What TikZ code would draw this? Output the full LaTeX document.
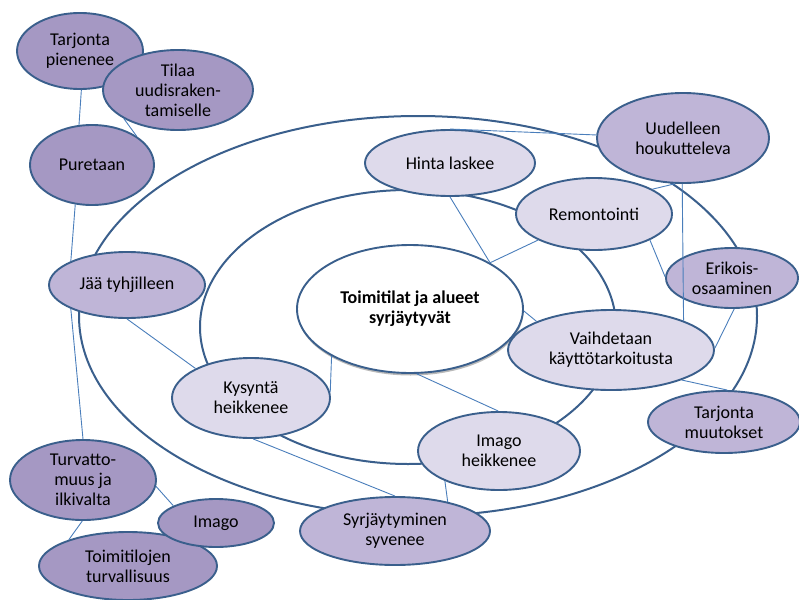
\documentclass[tikz,border=0pt]{standalone}
\usepackage{fontspec}
\setmainfont{Carlito}
\usetikzlibrary{shapes.geometric,shadows}
\definecolor{edge}{HTML}{3A5F8C}
\definecolor{linkc}{HTML}{4A7EBB}
\definecolor{pdark}{HTML}{A598C3}
\definecolor{pmid}{HTML}{BFB5D7}
\definecolor{plight}{HTML}{DEDAEB}

\begin{document}
\begin{tikzpicture}[x=1pt,y=-1pt,
  bub/.style={ellipse, draw=edge, line width=1.9pt, inner sep=-6pt, align=center,
              font=\fontsize{18}{20}\selectfont},
  dark/.style={bub, fill=pdark},
  mid/.style={bub, fill=pmid},
  light/.style={bub, fill=plight},
  ring/.style={draw=edge, line width=2pt},
  link/.style={draw=linkc, line width=0.9pt}]
\useasboundingbox (0,0) rectangle (799,599);

% concentric rings
\draw[ring] (418,316) ellipse [x radius=339pt, y radius=200pt];
\draw[ring] (408,327) ellipse [x radius=208pt, y radius=137pt];

% core
\node[bub, fill=white, minimum width=226pt, minimum height=128pt,
      drop shadow={shadow xshift=0.5pt, shadow yshift=-2.5pt, fill=gray, opacity=0.55},
      font=\fontsize{18}{20}\selectfont\bfseries] (c) at (410,309)
      {Toimitilat ja alueet\\syrjäytyvät};

% inner ring
\node[light, minimum width=170pt, minimum height=66pt] (hl) at (450,163) {Hinta laskee};
\node[light, minimum width=156pt, minimum height=72pt] (re) at (594,214) {Remontointi};
\node[light, minimum width=206pt, minimum height=80pt] (vk) at (611,350) {Vaihdetaan\\käyttötarkoitusta};
\node[light, minimum width=162pt, minimum height=78pt] (ih) at (499,451) {Imago\\heikkenee};
\node[light, minimum width=158pt, minimum height=80pt] (kh) at (251,398) {Kysyntä\\heikkenee};

% outer ring
\node[mid, minimum width=156pt, minimum height=66pt] (jt) at (127,285) {Jää tyhjilleen};
\node[mid, minimum width=172pt, minimum height=90pt] (uh) at (683,138) {Uudelleen\\houkutteleva};
\node[mid, minimum width=132pt, minimum height=60pt] (eo) at (732,278) {Erikois-\\osaaminen};
\node[mid, minimum width=152pt, minimum height=62pt] (tm) at (724,422) {Tarjonta\\muutokset};
\node[mid, minimum width=190pt, minimum height=68pt] (ss) at (395,531) {Syrjäytyminen\\syvenee};

% outside
\node[dark, minimum width=126pt, minimum height=76pt] (tp) at (80,51) {Tarjonta\\pienenee};
\node[dark, minimum width=150pt, minimum height=80pt] (tu) at (178,90) {Tilaa\\uudisraken-\\tamiselle};
\node[dark, minimum width=124pt, minimum height=80pt] (pu) at (92,165) {Puretaan};
\node[dark, minimum width=146pt, minimum height=80pt] (ti) at (83,480) {Turvatto-\\muus ja\\ilkivalta};
\node[dark, minimum width=178pt, minimum height=68pt] (tt) at (128,566) {Toimitilojen\\turvallisuus};
\node[dark, minimum width=116pt, minimum height=48pt] (im) at (216,523) {Imago};

% connectors
\draw[link] (tp.-88) -- (pu.108);
\draw[link] (tu.208) -- (pu.33);
\draw[link] (pu.-113) -- (jt.157);
\draw[link] (jt.203) -- (ti.90);
\draw[link] (jt.-90) -- (kh.152);
\draw[link] (ti.-5) -- (im.158);
\draw[link] (ti.-91) -- (tt.156);
\draw[link] (kh.4) -- (c.-149);
\draw[link] (kh.-87) -- (ss.90);
\draw[link] (c.-84) -- (ih.91);
\draw[link] (ih.-151) -- (ss.29);
\draw[link] (hl.-90) -- (c.30);
\draw[link] (re.205) -- (c.30);
\draw[link] (hl.90) -- (uh.178);
\draw[link] (uh.-100) -- (re.23);
\draw[link] (uh.-91) -- (vk.22);
\draw[link] (re.-25) -- (eo.179);
\draw[link] (eo.-86) -- (vk.1);
\draw[link] (vk.-23) -- (tm.84);
\draw[link] (c.-1) -- (vk.159);
\end{tikzpicture}
\end{document}
